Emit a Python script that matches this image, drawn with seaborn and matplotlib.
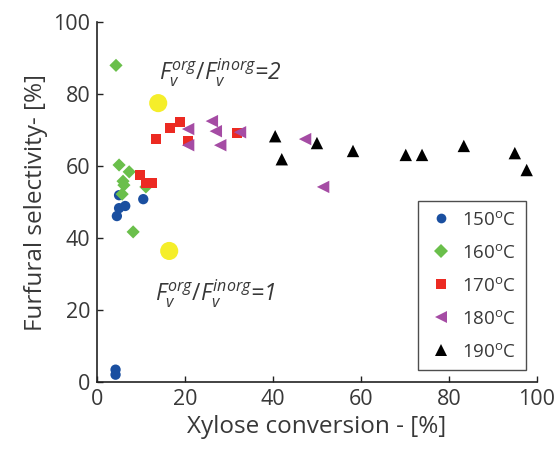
import numpy as np
import pandas as pd
import matplotlib
matplotlib.use("Agg")
import matplotlib.pyplot as plt
import seaborn as sns
from matplotlib.lines import Line2D

# ---- data ----
x150 = [4.2, 4.2, 4.5, 5.0, 6.4, 5.0, 10.5]
y150 = [3.4, 2.0, 46.1, 48.3, 48.9, 51.9, 50.8]
x160 = [4.3, 5.0, 7.3, 5.9, 6.1, 5.7, 11.1, 8.2]
y160 = [88.0, 60.3, 58.4, 55.8, 54.7, 52.2, 54.2, 41.7]
x170 = [13.4, 16.6, 18.9, 20.7, 9.8, 11.1, 12.5, 31.8]
y170 = [67.5, 70.6, 72.3, 66.9, 57.5, 55.3, 55.3, 69.2]
x180 = [20.7, 26.1, 27.0, 20.7, 28.0, 32.5, 47.3, 51.4]
y180 = [70.3, 72.5, 69.7, 65.8, 65.8, 69.4, 67.5, 54.2]
x190 = [40.5, 42.0, 50.0, 58.2, 70.2, 73.9, 83.4, 95.0, 97.7]
y190 = [68.3, 61.9, 66.4, 64.2, 63.1, 63.1, 65.6, 63.6, 58.9]
x_ratio = [13.9, 16.4]
y_ratio = [77.5, 36.4]
temps = ["150", "160", "170", "180", "190"]
xticks = [0, 20, 40, 60, 80, 100]
yticks = [0, 20, 40, 60, 80, 100]

frames = []
for t, xs, ys in zip(temps, [x150, x160, x170, x180, x190],
                     [y150, y160, y170, y180, y190]):
    frames.append(pd.DataFrame({"x": xs, "y": ys, "T": t}))
df = pd.concat(frames, ignore_index=True)
df_ratio = pd.DataFrame({"x": x_ratio, "y": y_ratio})

colors = {"150": "#1a4fa0", "160": "#6abf4b", "170": "#ec2a22",
          "180": "#a54ca4", "190": "#000000"}
markers = {"150": "o", "160": "D", "170": "s", "180": "<", "190": "^"}
sizes = {"150": 55, "160": 45, "170": 50, "180": 80, "190": 80}

sns.set_style("ticks")
plt.rcParams["font.family"] = ["Open Sans", "DejaVu Sans"]
plt.rcParams["mathtext.fontset"] = "custom"
plt.rcParams["mathtext.rm"] = "Open Sans"
plt.rcParams["mathtext.it"] = "Open Sans:italic"
plt.rcParams["mathtext.bf"] = "Open Sans:bold"
txt_color = "#383838"

fig = plt.figure(figsize=(5.58, 4.53), dpi=100)
ax = fig.add_axes([0.174, 0.157, 0.788, 0.794])

for t in temps:
    sub = df[df["T"] == t]
    sns.scatterplot(data=sub, x="x", y="y", ax=ax, color=colors[t],
                    marker=markers[t], s=sizes[t], edgecolor="none",
                    linewidth=0, legend=False, zorder=3)
sns.scatterplot(data=df_ratio, x="x", y="y", ax=ax, color="#f5ee2a",
                s=170, edgecolor="none", linewidth=0, legend=False, zorder=2)

ax.text(14.0, 83.8, r"$F_v^{org}/F_v^{inorg}$=2", fontsize=16.5,
        style="italic", color=txt_color)
ax.text(13.2, 22.5, r"$F_v^{org}/F_v^{inorg}$=1", fontsize=16.5,
        style="italic", color=txt_color)

ax.set_xlim(0, 100)
ax.set_ylim(0, 100)
ax.set_xticks(xticks)
ax.set_yticks(yticks)
ax.tick_params(direction="in", length=4, width=1, labelsize=15.5,
               colors="#222222", labelcolor=txt_color, pad=5)
for s in ["top", "right"]:
    ax.spines[s].set_visible(False)
for s in ["left", "bottom"]:
    ax.spines[s].set_color("#222222")
    ax.spines[s].set_linewidth(1.2)
ax.set_xlabel("Xylose conversion - [%]", fontsize=17.5, color=txt_color,
              labelpad=4)
ax.set_ylabel("Furfural selectivity- [%]", fontsize=17.5, color=txt_color,
              labelpad=4)

handles = [Line2D([], [], linestyle="none", marker=markers[t],
                  color=colors[t], markersize=7 if t not in ("180", "190") else 8,
                  markeredgewidth=0)
           for t in temps]
labels = [t + r"$^{\rm o}$C" for t in temps]
leg = ax.legend(handles, labels, loc="lower right",
                bbox_to_anchor=(0.975, 0.033), borderaxespad=0,
                fontsize=13.5, frameon=True, fancybox=False,
                handletextpad=0.45, labelspacing=0.8, borderpad=0.5,
                handlelength=1.4)
leg.get_frame().set_edgecolor("#222222")
leg.get_frame().set_linewidth(1.0)
for tx in leg.get_texts():
    tx.set_color(txt_color)

fig.savefig("out.png", dpi=100)
